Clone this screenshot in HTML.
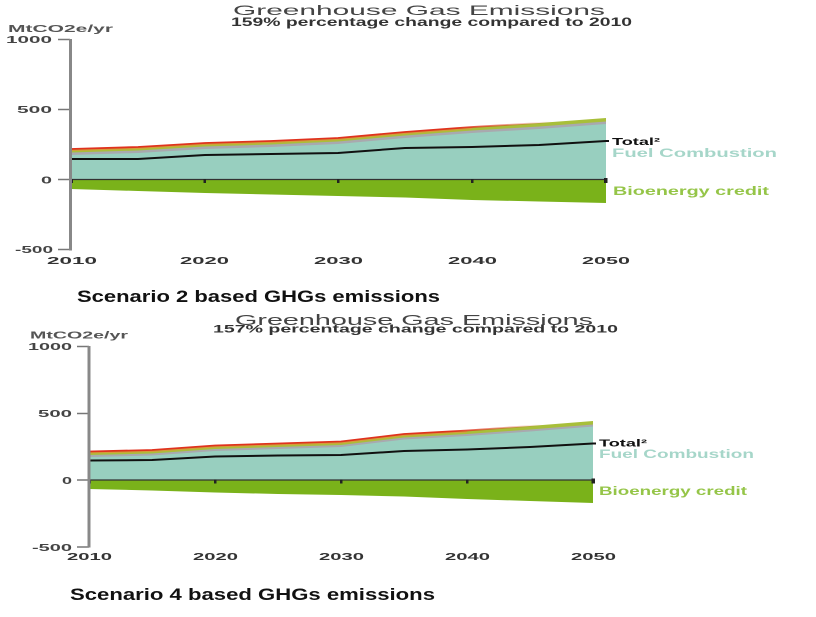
<!DOCTYPE html>
<html><head><meta charset="utf-8"><style>
html,body{margin:0;padding:0;background:#fff;width:816px;height:617px;overflow:hidden}
svg{display:block}
text{font-family:"Liberation Sans",Arial,sans-serif}
</style></head><body>
<svg width="816" height="617" viewBox="0 0 816 617" xmlns="http://www.w3.org/2000/svg">
<defs>
<linearGradient id="rg1" gradientUnits="userSpaceOnUse" x1="71" y1="0" x2="606" y2="0">
<stop offset="0" stop-color="#e0321e"/><stop offset="0.72" stop-color="#e0321e"/><stop offset="0.9" stop-color="#e0321e" stop-opacity="0"/></linearGradient>
<linearGradient id="rg2" gradientUnits="userSpaceOnUse" x1="89" y1="0" x2="593" y2="0">
<stop offset="0" stop-color="#e0321e"/><stop offset="0.72" stop-color="#e0321e"/><stop offset="0.9" stop-color="#e0321e" stop-opacity="0"/></linearGradient>
</defs>

<!-- ============ TOP CHART ============ -->
<text x="233" y="15" font-size="14" fill="#444" textLength="372" lengthAdjust="spacingAndGlyphs">Greenhouse Gas Emissions</text>
<text x="231" y="26" font-size="11.5" font-weight="bold" fill="#333" textLength="401" lengthAdjust="spacingAndGlyphs">159% percentage change compared to 2010</text>
<text x="8" y="32" font-size="10" font-weight="bold" fill="#555" textLength="105" lengthAdjust="spacingAndGlyphs">MtCO2e/yr</text>
<g font-size="10" font-weight="bold" fill="#444">
<text x="6" y="43" textLength="46" lengthAdjust="spacingAndGlyphs">1000</text>
<text x="17" y="113" textLength="35" lengthAdjust="spacingAndGlyphs">500</text>
<text x="41" y="183.5" textLength="11" lengthAdjust="spacingAndGlyphs">0</text>
<text x="15" y="253" textLength="38" lengthAdjust="spacingAndGlyphs">-500</text>
</g>
<g stroke="#777" stroke-width="1.5">
<line x1="58" y1="39.5" x2="70" y2="39.5"/><line x1="58" y1="109.5" x2="70" y2="109.5"/>
<line x1="58" y1="179.5" x2="70" y2="179.5"/><line x1="58" y1="249.5" x2="70" y2="249.5"/>
</g>
<!-- stack -->
<polygon fill="#7ab21a" points="71,179.5 138,179.5 205,179.5 271,179.5 338,179.5 405,179.5 472,179.5 539,179.5 606,179.5 606,203 539,201.5 472,200 405,197.5 338,196 271,194.5 205,193 138,191 71,189"/>
<polygon fill="#a8bf3a" points="71,179.5 71,149 138,147 205,143 271,141 338,138 405,132 472,127 539,123 606,118 606,179.5"/>
<polyline fill="none" stroke="#d99a3a" stroke-width="1" points="71,150.5 138,148.5 205,144.5 271,142.5 338,139.5 405,133.5 472,128.5"/>
<polygon fill="#a9a9ae" points="71,179.5 71,152.5 138,150.5 205,146.5 271,144.5 338,141.5 405,135.5 472,130.5 539,126.5 606,121.5 606,179.5"/>
<polygon fill="#98cfbf" points="71,179.5 71,155 138,153 205,149 271,147 338,144 405,138 472,133 539,129 606,124 606,179.5"/>
<polyline fill="none" stroke="url(#rg1)" stroke-width="1.8" points="71,149 138,147 205,143 271,141 338,138 405,132 472,127 539,123 606,118"/>
<polyline fill="none" stroke="#111" stroke-width="2" points="71,159 138,159 205,155 271,154 338,153 405,148 472,147 539,145 606,141 609,141"/>
<line x1="71" y1="179.5" x2="606" y2="179.5" stroke="#333" stroke-width="1.2"/>
<g fill="#222"><rect x="203.5" y="179" width="2.5" height="4"/><rect x="337" y="179" width="2.5" height="4"/><rect x="471" y="179" width="2.5" height="4"/><rect x="604" y="178" width="3.5" height="5"/><rect x="70" y="179" width="3" height="4"/></g>
<line x1="70.5" y1="39" x2="70.5" y2="250.5" stroke="#888" stroke-width="3"/>
<g font-size="10" font-weight="bold" fill="#333">
<text x="47" y="264" textLength="50" lengthAdjust="spacingAndGlyphs">2010</text>
<text x="180" y="264" textLength="49" lengthAdjust="spacingAndGlyphs">2020</text>
<text x="314" y="264" textLength="49" lengthAdjust="spacingAndGlyphs">2030</text>
<text x="448" y="264" textLength="49" lengthAdjust="spacingAndGlyphs">2040</text>
<text x="582" y="264" textLength="48" lengthAdjust="spacingAndGlyphs">2050</text>
</g>
<text x="612" y="145" font-size="10" font-weight="bold" fill="#111" textLength="48" lengthAdjust="spacingAndGlyphs">Total²</text>
<text x="612" y="157" font-size="12" font-weight="bold" fill="#a6d6c9" textLength="165" lengthAdjust="spacingAndGlyphs">Fuel Combustion</text>
<text x="613" y="195" font-size="12" font-weight="bold" fill="#95c548" textLength="156" lengthAdjust="spacingAndGlyphs">Bioenergy credit</text>

<text x="77" y="302" font-size="17" font-weight="bold" fill="#111" textLength="363" lengthAdjust="spacingAndGlyphs">Scenario 2 based GHGs emissions</text>

<!-- ============ BOTTOM CHART ============ -->
<text x="235" y="325" font-size="15" fill="#444" textLength="358" lengthAdjust="spacingAndGlyphs">Greenhouse Gas Emissions</text>
<text x="213" y="332.5" font-size="11" font-weight="bold" fill="#333" textLength="405" lengthAdjust="spacingAndGlyphs">157% percentage change compared to 2010</text>
<text x="30" y="338.5" font-size="10" font-weight="bold" fill="#555" textLength="98" lengthAdjust="spacingAndGlyphs">MtCO2e/yr</text>
<g font-size="10" font-weight="bold" fill="#444">
<text x="28" y="350" textLength="44" lengthAdjust="spacingAndGlyphs">1000</text>
<text x="38" y="417" textLength="34" lengthAdjust="spacingAndGlyphs">500</text>
<text x="62" y="484" textLength="10" lengthAdjust="spacingAndGlyphs">0</text>
<text x="32" y="551" textLength="40" lengthAdjust="spacingAndGlyphs">-500</text>
</g>
<g stroke="#777" stroke-width="1.5">
<line x1="77" y1="346.5" x2="89" y2="346.5"/><line x1="77" y1="413.5" x2="89" y2="413.5"/>
<line x1="77" y1="480" x2="89" y2="480"/><line x1="77" y1="547" x2="89" y2="547"/>
</g>
<polygon fill="#7ab21a" points="89,480 593,480 593,503 530,501 467,499 404,496.5 341,495 278,494 215,492.5 152,490.5 89,489"/>
<polygon fill="#a8bf3a" points="89,480 89,451.5 152,450 215,445.5 278,443.5 341,441.5 404,434 467,430.5 530,426 593,421 593,480"/>
<polyline fill="none" stroke="#d99a3a" stroke-width="1" points="89,453 152,451.5 215,447 278,445 341,443 404,435.5 467,432"/>
<polygon fill="#a9a9ae" points="89,480 89,455 152,453.5 215,449 278,447 341,445 404,437.5 467,434 530,429.5 593,424.5 593,480"/>
<polygon fill="#98cfbf" points="89,480 89,457 152,455.5 215,451 278,449 341,447 404,439.5 467,436 530,431.5 593,426.5 593,480"/>
<polyline fill="none" stroke="url(#rg2)" stroke-width="1.8" points="89,451.5 152,450 215,445.5 278,443.5 341,441.5 404,434 467,430.5 530,426 593,421"/>
<polyline fill="none" stroke="#111" stroke-width="2" points="89,460.5 152,460 215,456.5 278,455.5 341,455 404,451 467,449.5 530,447 593,443.5 596,443.5"/>
<line x1="89" y1="480" x2="593" y2="480" stroke="#333" stroke-width="1.2"/>
<g fill="#222"><rect x="214" y="479.5" width="2.5" height="4"/><rect x="340" y="479.5" width="2.5" height="4"/><rect x="466" y="479.5" width="2.5" height="4"/><rect x="591.5" y="478.5" width="3.5" height="5"/><rect x="88" y="479.5" width="3" height="4"/></g>
<line x1="89" y1="346" x2="89" y2="547.5" stroke="#888" stroke-width="3"/>
<g font-size="10" font-weight="bold" fill="#333">
<text x="67" y="560" textLength="45" lengthAdjust="spacingAndGlyphs">2010</text>
<text x="193" y="560" textLength="45" lengthAdjust="spacingAndGlyphs">2020</text>
<text x="319" y="560" textLength="45" lengthAdjust="spacingAndGlyphs">2030</text>
<text x="445" y="560" textLength="45" lengthAdjust="spacingAndGlyphs">2040</text>
<text x="571" y="560" textLength="45" lengthAdjust="spacingAndGlyphs">2050</text>
</g>
<text x="599" y="446.5" font-size="10" font-weight="bold" fill="#111" textLength="48" lengthAdjust="spacingAndGlyphs">Total²</text>
<text x="599" y="458" font-size="11.5" font-weight="bold" fill="#a6d6c9" textLength="155" lengthAdjust="spacingAndGlyphs">Fuel Combustion</text>
<text x="599" y="495" font-size="11.5" font-weight="bold" fill="#95c548" textLength="148" lengthAdjust="spacingAndGlyphs">Bioenergy credit</text>

<text x="70" y="600" font-size="17" font-weight="bold" fill="#111" textLength="365" lengthAdjust="spacingAndGlyphs">Scenario 4 based GHGs emissions</text>
</svg>
</body></html>
